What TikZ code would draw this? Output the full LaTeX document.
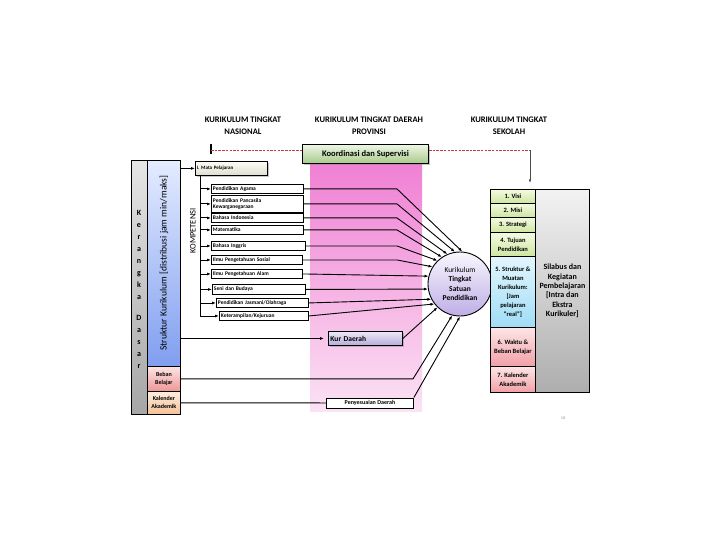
\documentclass[tikz,border=0pt]{standalone}
\usepackage{fontspec}
\setmainfont{Carlito}
\usetikzlibrary{shadows,arrows.meta,calc}
\definecolor{pinkT}{RGB}{240,128,212}
\definecolor{pinkB}{RGB}{251,226,244}
\definecolor{blueT}{RGB}{228,236,255}
\definecolor{blueB}{RGB}{128,158,240}
\definecolor{bebT}{RGB}{253,228,228}
\definecolor{bebB}{RGB}{238,150,150}
\definecolor{kalT}{RGB}{253,236,222}
\definecolor{kalB}{RGB}{244,192,150}
\definecolor{grnT}{RGB}{244,250,226}
\definecolor{grnB}{RGB}{206,230,160}
\definecolor{koT}{RGB}{238,246,230}
\definecolor{koB}{RGB}{168,202,138}
\definecolor{cyT}{RGB}{226,246,254}
\definecolor{cyB}{RGB}{160,220,246}
\definecolor{rdT}{RGB}{253,230,230}
\definecolor{rdB}{RGB}{240,160,166}
\definecolor{lavT}{RGB}{248,246,253}
\definecolor{lavB}{RGB}{190,174,230}
\definecolor{kurT}{RGB}{236,232,248}
\definecolor{kurB}{RGB}{182,172,218}
\definecolor{crT}{RGB}{253,253,246}
\definecolor{crB}{RGB}{222,222,208}
\definecolor{dashred}{RGB}{192,64,64}
\begin{document}
\begin{tikzpicture}[x=1pt,y=-1pt,
  every node/.style={inner sep=0pt},
  title/.style={font=\fontsize{8.5}{12}\selectfont\bfseries, align=center},
  ln/.style={line width=0.9pt},
  arr/.style={line width=0.9pt, -{Latex[length=4pt,width=3pt]}},
  sub/.style={draw, line width=0.9pt, fill=white, anchor=north west, inner xsep=1.5pt, align=left, font=\fontsize{5.5}{6.5}\selectfont\bfseries},
  col/.style={draw, line width=0.8pt, anchor=north west},
  rbox/.style={draw, line width=0.8pt, anchor=north west, minimum width=45pt, align=center, font=\fontsize{6.5}{9}\selectfont\bfseries},
  shad/.style={drop shadow={shadow xshift=1.5pt, shadow yshift=-1.5pt, opacity=0.45}},
  green/.style={top color=grnT, bottom color=grnB},
  redg/.style={top color=rdT, bottom color=rdB}
]
\useasboundingbox (0,0) rectangle (720,540);

% titles
\node[title] (t1) at (243,126) {KURIKULUM TINGKAT\\NASIONAL};
\node[title] (t2) at (369,126) {KURIKULUM TINGKAT DAERAH\\PROVINSI};
\node[title] (t3) at (509,126) {KURIKULUM TINGKAT\\SEKOLAH};

% pink column
\node[anchor=north west, minimum width=112pt, minimum height=248pt, top color=pinkT, bottom color=pinkB] (pink) at (310,163) {};

% coordination box
\node[col, line width=1pt, minimum width=126pt, minimum height=19pt, top color=koT, bottom color=koB, shad, font=\fontsize{8.5}{10}\selectfont\bfseries] (koord) at (302,144) {Koordinasi dan Supervisi};

% left structure
\node[col, minimum width=16pt, minimum height=254pt, top color=black!10, bottom color=black!35] (kd) at (131,160) {};
\node[col, minimum width=33pt, minimum height=206pt, top color=blueT, bottom color=blueB] (blue) at (147,160) {};
\node[col, minimum width=33pt, minimum height=25pt, top color=bebT, bottom color=bebB, align=center, font=\fontsize{6}{8}\selectfont\bfseries] (bebanL) at (147,366) {Beban\\Belajar};
\node[col, minimum width=33pt, minimum height=23pt, top color=kalT, bottom color=kalB, align=center, font=\fontsize{6}{8}\selectfont\bfseries] (kalL) at (147,391) {Kalender\\Akademik};
\node[align=center, font=\fontsize{8}{12}\selectfont\bfseries] (kdtext) at (139,289.5) {K\\e\\r\\a\\n\\g\\k\\a\\[9pt]D\\a\\s\\a\\r};
\node[rotate=90, font=\fontsize{9.6}{10}\selectfont] (bluetext) at (164,263) {Struktur Kurikulum [distribusi jam min/maks]};
\node[rotate=90, font=\fontsize{8.5}{9}\selectfont] (komp) at (193,231) {KOMPETENSI};

% mata pelajaran
\node[col, minimum height=14pt, text width=69pt, inner xsep=1.5pt, align=left, top color=crT, bottom color=crB, shad, font=\fontsize{5}{6}\selectfont\bfseries] (mp) at (195,161) {I. Mata Pelajaran};

% subjects
\node[sub, text width=89pt, minimum height=9pt] (agama) at (211,184) {Pendidikan Agama};
\node[sub, text width=89pt, minimum height=17pt] (pkn) at (211,195) {Pendidikan Pancasila\\Kewarganegaraan};
\node[sub, text width=89pt, minimum height=9pt] (bind) at (211,213) {Bahasa Indonesia};
\node[sub, text width=89pt, minimum height=9pt] (mat) at (211,225) {Matematika};
\node[sub, text width=91pt, minimum height=9pt] (ingg) at (211,241) {Bahasa Inggris};
\node[sub, text width=88pt, minimum height=9pt] (ips) at (211,255) {Ilmu Pengetahuan Sosial};
\node[sub, text width=88pt, minimum height=9pt] (ipa) at (211,269) {Ilmu Pengetahuan Alam};
\node[sub, text width=90pt, minimum height=10pt] (seni) at (212,284) {Seni dan Budaya};
\node[sub, text width=89pt, minimum height=9pt] (jas) at (216,298) {Pendidikan Jasmani/Olahraga};
\node[sub, text width=86pt, minimum height=9pt] (ket) at (219,311) {Keterampilan/Kejuruan};

% daerah boxes
\node[col, line width=0.9pt, minimum height=14pt, text width=70pt, inner xsep=2pt, align=left, top color=kurT, bottom color=kurB, shad, font=\fontsize{7.5}{8}\selectfont\bfseries] (kur) at (328,331) {Kur Daerah};
\node[col, line width=0.9pt, minimum width=87pt, minimum height=10pt, fill=white, font=\fontsize{6}{7}\selectfont\bfseries] (pen) at (326,397.5) {Penyesuaian Daerah};

% circle
\node[circle, draw, line width=0.9pt, minimum size=64pt, top color=lavT, bottom color=lavB, align=center, font=\fontsize{7.5}{9.5}\selectfont] (circ) at (460,284) {Kurikulum\\\textbf{Tingkat}\\\textbf{Satuan}\\\textbf{Pendidikan}};

% right column
\node[rbox, minimum height=14pt, green] (visi) at (490,189) {1. Visi};
\node[rbox, minimum height=14pt, green] (misi) at (490,203) {2. Misi};
\node[rbox, minimum height=15pt, green] (strat) at (490,217) {3. Strategi};
\node[rbox, minimum height=24pt, green] (tuj) at (490,232) {4. Tujuan\\Pendidikan};
\node[rbox, minimum height=71pt, top color=cyT, bottom color=cyB] (struk) at (490,256) {5. Struktur \&\\Muatan\\Kurikulum:\\{[}Jam\\pelajaran\\“real”{]}};
\node[rbox, minimum height=39pt, redg] (wak) at (490,327) {6. Waktu \&\\Beban Belajar};
\node[rbox, minimum height=26pt, redg] (kalR) at (490,366) {7. Kalender\\Akademik};
\node[col, minimum width=54pt, minimum height=203pt, top color=black!5, bottom color=black!32, align=center, font=\fontsize{8}{9.3}\selectfont\bfseries] (silabus) at (535,189) {Silabus dan\\Kegiatan\\Pembelajaran\\{[}Intra dan\\Ekstra\\Kurikuler{]}};

% page number
\node[font=\fontsize{4}{4}\selectfont, text=black!45] (pg) at (563,418) {18};

% coordination line
\coordinate (dl) at (211,150);
\coordinate (dr) at (530,150);
\draw[line width=1.3pt] ($(dl)+(0,-6)$) -- ($(dl)+(0,4)$);
\draw[dashred, line width=0.8pt, dash pattern=on 2.5pt off 1.2pt] (dl) -- (dl -| koord.west);
\draw[dashred, line width=0.8pt, dash pattern=on 2.5pt off 1.2pt] (dr -| koord.east) -- (dr);
\draw[black!70, line width=0.6pt, -{Latex[length=3.5pt,width=2.5pt]}, shorten >=6pt] (dr) -- (dr |- visi.north);

% mata pelajaran and subject branches
\draw[arr] (mp.west -| blue.east) -- (mp.west);
\coordinate (vx) at (200,0);
\draw[ln] (mp.south -| vx) -- (ket.west -| vx);
\foreach \n in {agama,pkn,bind,mat,ingg,ips,ipa,seni,jas,ket}
  \draw[arr] (\n.west -| vx) -- (\n.west);

% subjects to circle
\coordinate (bx) at (397,0);
\draw[arr] (agama.east) -- (agama.east -| bx) -- (circ.86);
\draw[arr] (pkn.east) -- (pkn.east -| bx) -- (circ.99);
\draw[arr] (bind.east) -- (bind.east -| bx) -- (circ.113);
\draw[arr] (mat.east) -- (mat.east -| bx) -- (circ.124);
\draw[arr] (ingg.east) -- (ingg.east -| bx) -- (circ.134);
\draw[arr] (ips.east) -- (ips.east -| bx) -- (circ.148);
\draw[arr] (ipa.east) -- (circ.166);
\draw[arr] (seni.east) -- (circ.189);
\draw[arr] (jas.east) -- (circ.208);
\draw[arr] (ket.east) -- (circ.218);

% daerah connections
\draw[arr, shorten >=4pt] (kur.west -| blue.east) -- (kur.west);
\draw[arr] (kur.east) -- (circ.226);
\coordinate (bb) at (413,0);
\draw[arr] (bebanL.east) -- (bebanL.east -| bb) -- (circ.256);
\draw[ln] (kalL.east) -- (pen.west);
\draw[arr] (pen.north east) -- (circ.270);
\end{tikzpicture}
\end{document}
